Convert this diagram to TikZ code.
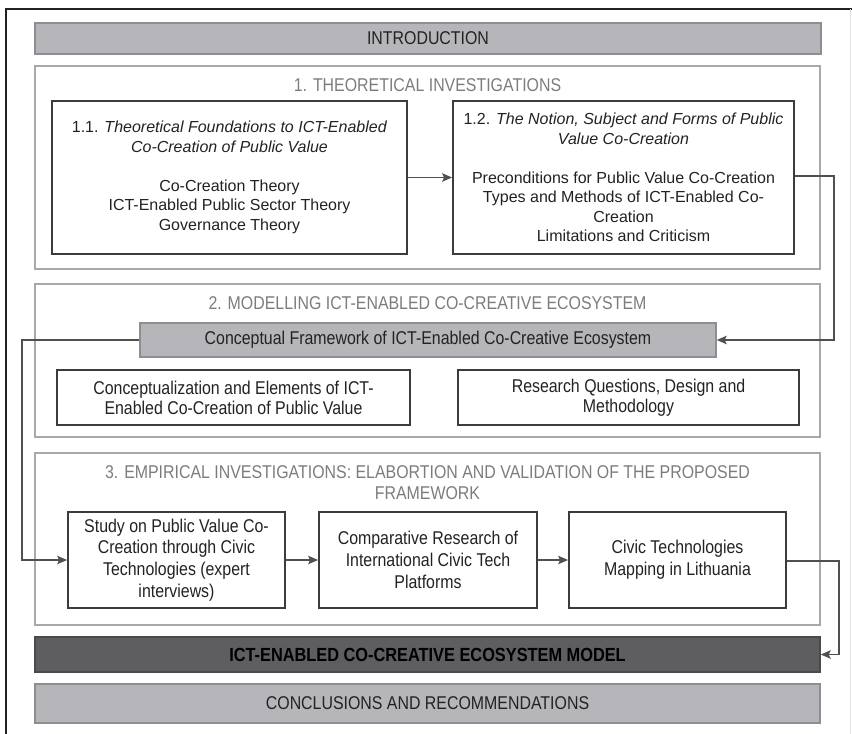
\documentclass[tikz,border=0pt]{standalone}
\usepackage{fontspec}
\setmainfont{Liberation Sans}
\newfontfamily\narrowsans[FakeStretch=0.86]{Liberation Sans}
\usetikzlibrary{arrows.meta}
\definecolor{barfill}{HTML}{B6B6BA}
\definecolor{barline}{HTML}{8E8E92}
\definecolor{modelfill}{HTML}{5E5E60}
\definecolor{modelline}{HTML}{4A4A4C}
\definecolor{secline}{HTML}{A8A8A8}
\definecolor{boxline}{HTML}{3C3C3C}
\definecolor{titlegray}{HTML}{7C7C7C}
\definecolor{textdark}{HTML}{222222}
\definecolor{connline}{HTML}{505050}
\definecolor{frameline}{HTML}{222222}
\definecolor{faintline}{HTML}{E2E2E2}
\tikzset{
  txt/.style={font=\fontsize{16}{19.5}\selectfont, text=textdark, align=center},
  ntxt/.style={font=\narrowsans\fontsize{18.5}{20}\selectfont, text=textdark, align=center},
  graybar/.style={ntxt, draw=barline, fill=barfill, line width=1.5pt, inner sep=0pt},
  modelbar/.style={draw=modelline, fill=modelfill, line width=1.5pt, inner sep=0pt,
    align=center, font=\narrowsans\fontsize{19}{20}\selectfont\bfseries, text=black},
  section/.style={draw=secline, line width=1.3pt, inner sep=0pt},
  sectitle/.style={font=\narrowsans\fontsize{18.5}{21}\selectfont, text=titlegray, align=center},
  innerbox/.style={txt, draw=boxline, line width=1.8pt, inner sep=0pt},
  ninnerbox/.style={ntxt, draw=boxline, line width=1.8pt, inner sep=0pt},
  conn/.style={draw=connline, line width=1.4pt,
    -{Stealth[length=10pt,width=8.5pt,inset=2pt]}},
}
\begin{document}
\begin{tikzpicture}[x=1pt,y=-1pt]
\useasboundingbox (0,0) rectangle (852,734);

% outer frame
\draw[frameline, line width=2.4pt] (6,734) -- (6,9) -- (852,9);
\draw[faintline, line width=1pt] (850,9) -- (850,734);

% introduction
\node[graybar, minimum width=786pt, minimum height=31pt] (intro) at (428,38.5) {INTRODUCTION};

% section 1
\node[section, minimum width=785pt, minimum height=203pt] (sec1) at (427.5,167.5) {};
\node[sectitle] (t1) at (427.5,85) {1. THEORETICAL INVESTIGATIONS};
\node[innerbox, minimum width=355pt, minimum height=153pt] (b11) at (229.5,177.5)
  {1.1. \textit{Theoretical Foundations to ICT-Enabled}\\
   \textit{Co-Creation of Public Value}\\[19.5pt]
   Co-Creation Theory\\
   ICT-Enabled Public Sector Theory\\
   Governance Theory};
\node[innerbox, minimum width=341pt, minimum height=153pt] (b12) at (623.5,177.5)
  {1.2. \textit{The Notion, Subject and Forms of Public}\\
   \textit{Value Co-Creation}\\[19.5pt]
   Preconditions for Public Value Co-Creation\\
   Types and Methods of ICT-Enabled Co-\\
   Creation\\
   Limitations and Criticism};

% section 2
\node[section, minimum width=785pt, minimum height=153pt] (sec2) at (427.5,360.5) {};
\node[sectitle] (t2) at (427.5,303) {2. MODELLING ICT-ENABLED CO-CREATIVE ECOSYSTEM};
\node[graybar, minimum width=576pt, minimum height=34pt] (cf) at (428,340)
  {Conceptual Framework of ICT-Enabled Co-Creative Ecosystem};
\node[ninnerbox, minimum width=353pt, minimum height=55pt] (b21) at (233.5,397.5)
  {Conceptualization and Elements of ICT-\\Enabled Co-Creation of Public Value};
\node[ninnerbox, minimum width=341pt, minimum height=55pt] (b22) at (628.5,397.5)
  {Research Questions, Design and\\Methodology};

% section 3
\node[section, minimum width=785pt, minimum height=172pt] (sec3) at (427.5,539) {};
\node[sectitle] (t3) at (427.5,482.5)
  {3. EMPIRICAL INVESTIGATIONS: ELABORTION AND VALIDATION OF THE PROPOSED\\FRAMEWORK};
\node[ninnerbox, font=\narrowsans\fontsize{18.5}{21.7}\selectfont, minimum width=217pt, minimum height=96pt] (b31) at (176.5,560)
  {Study on Public Value Co-\\Creation through Civic\\Technologies (expert\\interviews)};
\node[ninnerbox, font=\narrowsans\fontsize{18.5}{21.7}\selectfont, minimum width=218pt, minimum height=96pt] (b32) at (428,560)
  {Comparative Research of\\International Civic Tech\\Platforms};
\node[ninnerbox, font=\narrowsans\fontsize{18.5}{21.7}\selectfont, minimum width=217pt, minimum height=96pt] (b33) at (677.5,560)
  {Civic Technologies\\Mapping in Lithuania};

% model and conclusions
\node[modelbar, minimum width=785pt, minimum height=35pt] (model) at (427.5,654.5)
  {ICT-ENABLED CO-CREATIVE ECOSYSTEM MODEL};
\node[graybar, minimum width=785pt, minimum height=39pt] (concl) at (427.5,703.5)
  {CONCLUSIONS AND RECOMMENDATIONS};

% connectors
\coordinate (rA) at (834,176);
\coordinate (lA) at (22,340);
\coordinate (rB) at (839,561);

\draw[conn] (b11.east) -- (b12.west);
\draw[conn] (b12.east |- rA) -- (rA) |- (cf.east);
\draw[conn] (cf.west) -- (lA) |- (b31.west);
\draw[conn] (b31.east) -- (b32.west);
\draw[conn] (b32.east) -- (b33.west);
\draw[conn] (b33.east |- rB) -- (rB) |- (model.east);
\end{tikzpicture}
\end{document}
